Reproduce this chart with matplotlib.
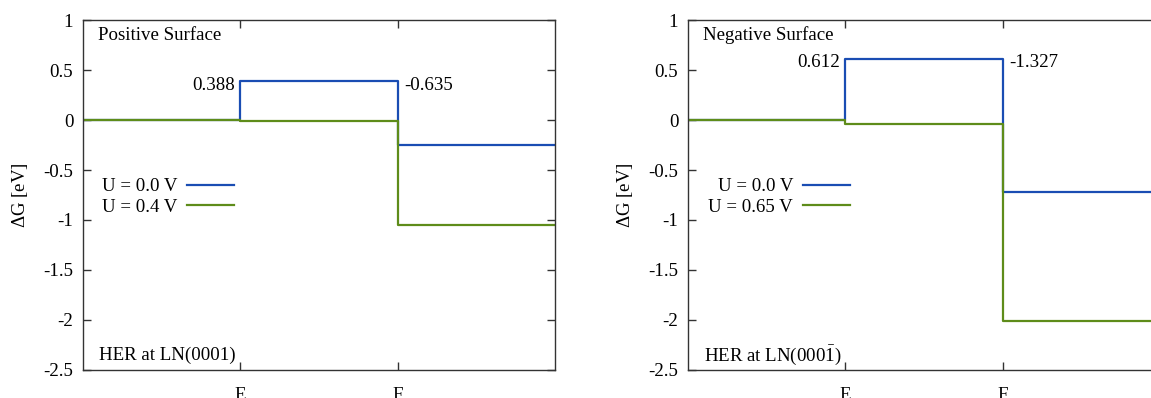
import numpy as np
import matplotlib
matplotlib.use('Agg')
import matplotlib.pyplot as plt

plt.rcParams['font.family'] = ['Liberation Serif', 'DejaVu Serif']
plt.rcParams['mathtext.fontset'] = 'custom'
plt.rcParams['mathtext.rm'] = 'Liberation Serif'
plt.rcParams['font.size'] = 13.6

# reaction steps
steps = ['', 'E', 'F', '']

# positive surface (0001)
pos_dg = [0.388, -0.635]
pos_u = [0.0, 0.4]
# negative surface (000-1)
neg_dg = [0.612, -1.327]
neg_u = [0.0, 0.65]

blue = '#1a4db3'
green = '#5e8c1a'


def levels(dg, u):
    # free energy of each state, shifted by -n*e*U
    g = np.concatenate([[0], np.cumsum(dg)])
    g = g - u * np.arange(len(g))
    return np.append(g, g[-1])


W, H = 1151, 398
fig = plt.figure(figsize=(W / 100, H / 100), dpi=100)
ax1 = fig.add_axes([83 / W, 0.0704, 472 / W, 0.8793])
ax2 = fig.add_axes([688 / W, 0.0704, 472 / W, 0.8793])

panels = [
    (ax1, pos_dg, pos_u, 'Positive Surface', 'HER at LN(0001)', 0.32),
    (ax2, neg_dg, neg_u, 'Negative Surface', r'HER at LN(000$\bar{\mathrm{1}}$)', 0.343),
]

x = np.arange(4)
for ax, dg, us, title, label, legx in panels:
    for u, c in zip(us, [blue, green]):
        ax.step(x, levels(dg, u), where='post', color=c, lw=1.6,
                label=f'U = {u:.1f} V' if u != 0.65 else 'U = 0.65 V')

    g0 = levels(dg, 0.0)
    ax.annotate(f'{dg[0]:.3f}', xy=(1, g0[1]), xytext=(-4, -3),
                textcoords='offset points', ha='right', va='center')
    ax.annotate(f'{dg[1]:.3f}', xy=(2, g0[1]), xytext=(5, -3),
                textcoords='offset points', ha='left', va='center')

    ax.text(0.032, 0.957, title, transform=ax.transAxes, va='center', ha='left')
    ax.text(0.034, 0.043, label, transform=ax.transAxes, va='center', ha='left')

    ax.set_xlim(0, 3)
    ax.set_ylim(-2.5, 1)
    ax.set_xticks([1, 2])
    ax.set_xticklabels(['E', 'F'])
    ax.set_yticks([1, 0.5, 0, -0.5, -1, -1.5, -2, -2.5])
    ax.set_yticklabels(['1', '0.5', '0', '-0.5', '-1', '-1.5', '-2', '-2.5'])
    ax.tick_params(direction='in', length=6, width=1, color='#333333',
                   top=True, right=True)
    ax.tick_params(axis='x', pad=12)
    ax.tick_params(axis='y', pad=7)
    for s in ax.spines.values():
        s.set_color('#333333')
        s.set_linewidth(1)
    ax.set_ylabel(r'$\Delta$G [eV]')
    ax.yaxis.set_label_coords(-0.112, 0.5)

    ax.legend(loc='upper right', bbox_to_anchor=(legx, 0.548), frameon=False,
              markerfirst=False, borderpad=0, borderaxespad=0,
              handlelength=2.5, handletextpad=0.5, labelspacing=0.16)

fig.savefig('out.png', dpi=100)
